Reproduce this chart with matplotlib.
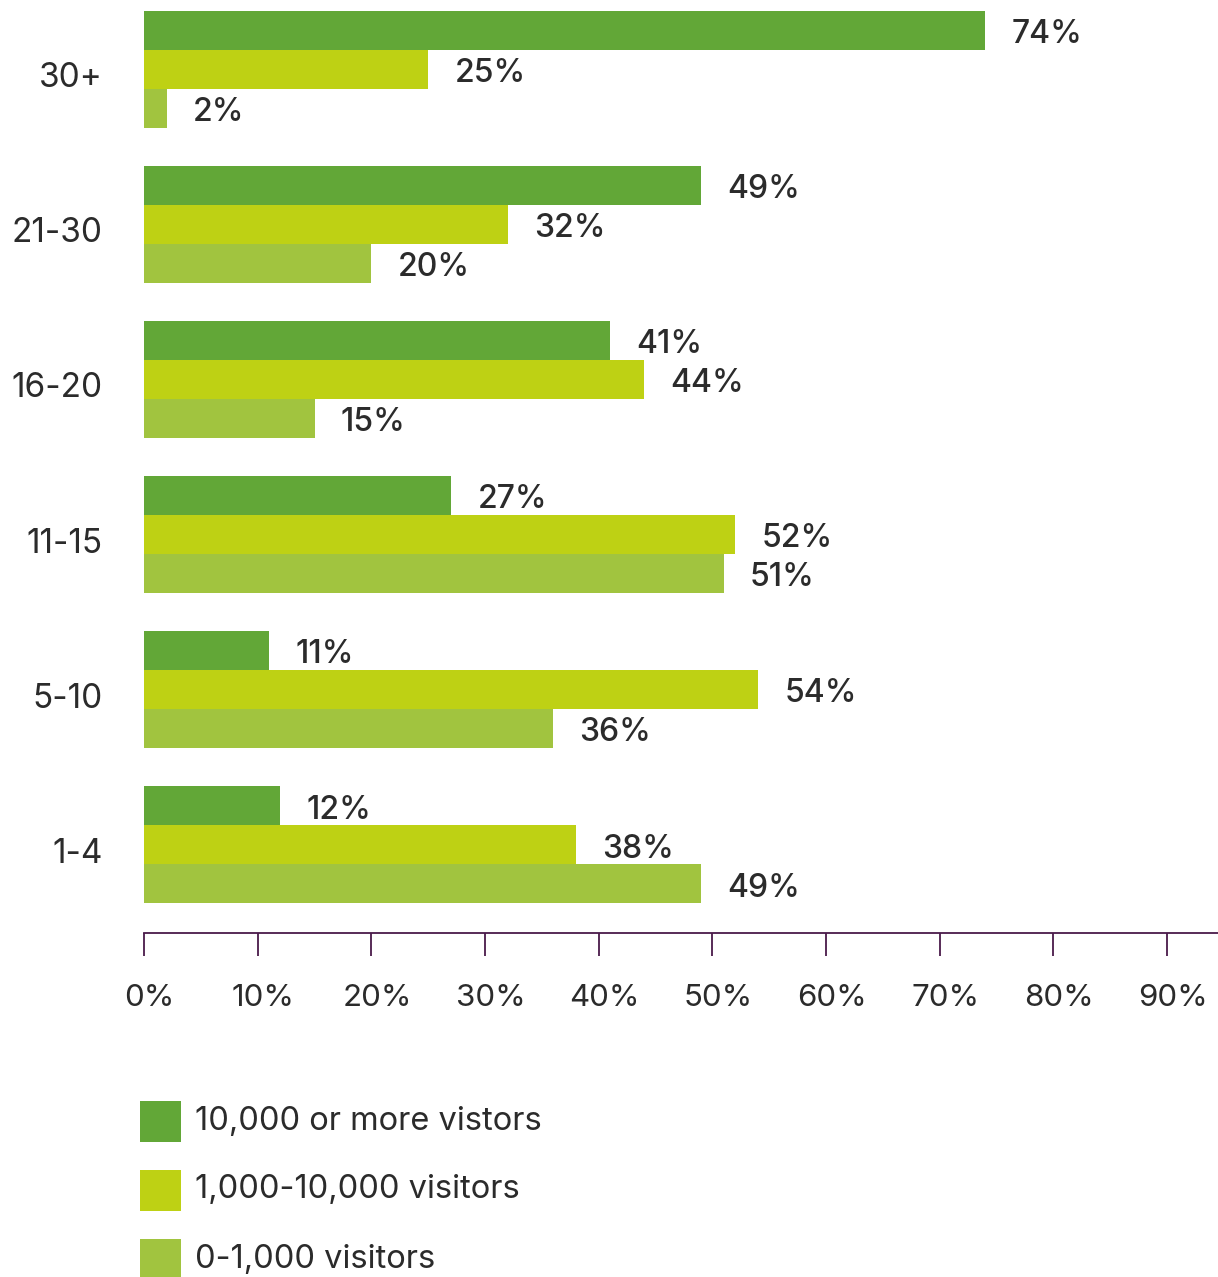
import matplotlib
matplotlib.use("Agg")
import matplotlib.pyplot as plt
import matplotlib.transforms as mtransforms
from matplotlib.patches import Rectangle
import numpy as np

plt.rcParams['font.family'] = ['Inter', 'DejaVu Sans']

categories = ["1-4", "5-10", "11-15", "16-20", "21-30", "30+"]
series_names = ["10,000 or more vistors", "1,000-10,000 visitors", "0-1,000 visitors"]
large = [12, 11, 27, 41, 49, 74]
medium = [38, 54, 52, 44, 32, 25]
small = [49, 36, 51, 15, 20, 2]
series_values = [large, medium, small]
colors = ["#62A737", "#BED114", "#A1C43F"]
xticks = [0, 10, 20, 30, 40, 50, 60, 70, 80, 90]

W, H = 1218, 1277
fig = plt.figure(figsize=(W / 100, H / 100), dpi=100)
fig.patch.set_facecolor("white")

ax_left = 144 / W
ax_right = 1.0
ax_bottom = (H - 933) / H
ax_top = 1.0
ax = fig.add_axes([ax_left, ax_bottom, ax_right - ax_left, ax_top - ax_bottom])

bar_h = 39 / 155
y = np.arange(len(categories))
text_color = "#2b2b2b"

for i, (vals, col) in enumerate(zip(series_values, colors)):
    ypos = y + bar_h * (1 - i)
    ax.barh(ypos, vals, height=bar_h, color=col, edgecolor="none")
    for yy, v in zip(ypos, vals):
        ax.annotate(f"{v}%", xy=(v, yy), xytext=(19, -3), textcoords="offset points",
                    va="center", ha="left", fontsize=23, fontweight="medium",
                    color=text_color)

xmax = (W - 144) / (1167 - 144) * 90
ax.set_xlim(0, xmax)
ax.set_ylim(-88 / 155, 5 + 69 / 155)

ax.set_yticks(y)
ax.set_yticklabels(categories, fontsize=24, color=text_color)
ax.tick_params(axis="y", length=0, pad=30)
shift_down = mtransforms.ScaledTranslation(0, -4 / 72, fig.dpi_scale_trans)
for lab in ax.get_yticklabels():
    lab.set_horizontalalignment("right")
    lab.set_transform(lab.get_transform() + shift_down)

axis_color = "#4a1a4a"
ax.set_xticks(xticks)
ax.set_xticklabels([f"{t}%" for t in xticks], fontsize=22.5, color=text_color)
ax.tick_params(axis="x", direction="out", length=16.5, width=1.3, color=axis_color, pad=20)
shift_right = mtransforms.ScaledTranslation(4 / 72, 0, fig.dpi_scale_trans)
for lab in ax.get_xticklabels():
    lab.set_transform(lab.get_transform() + shift_right)

for side in ["top", "right", "left"]:
    ax.spines[side].set_visible(False)
ax.spines["bottom"].set_color(axis_color)
ax.spines["bottom"].set_linewidth(1.3)

# legend drawn as swatches with labels beneath the axis
legend_rows = [1121, 1190, 1259]
sq = 41
for name, col, yc in zip(series_names, colors, legend_rows):
    fig.add_artist(Rectangle((140 / W, (H - yc - sq / 2) / H), sq / W, sq / H,
                             transform=fig.transFigure, facecolor=col, edgecolor="none"))
    fig.text(195 / W, (H - yc) / H, name, fontsize=23.5, color=text_color,
             va="center", ha="left")

fig.savefig("out.png", dpi=100, facecolor="white")
